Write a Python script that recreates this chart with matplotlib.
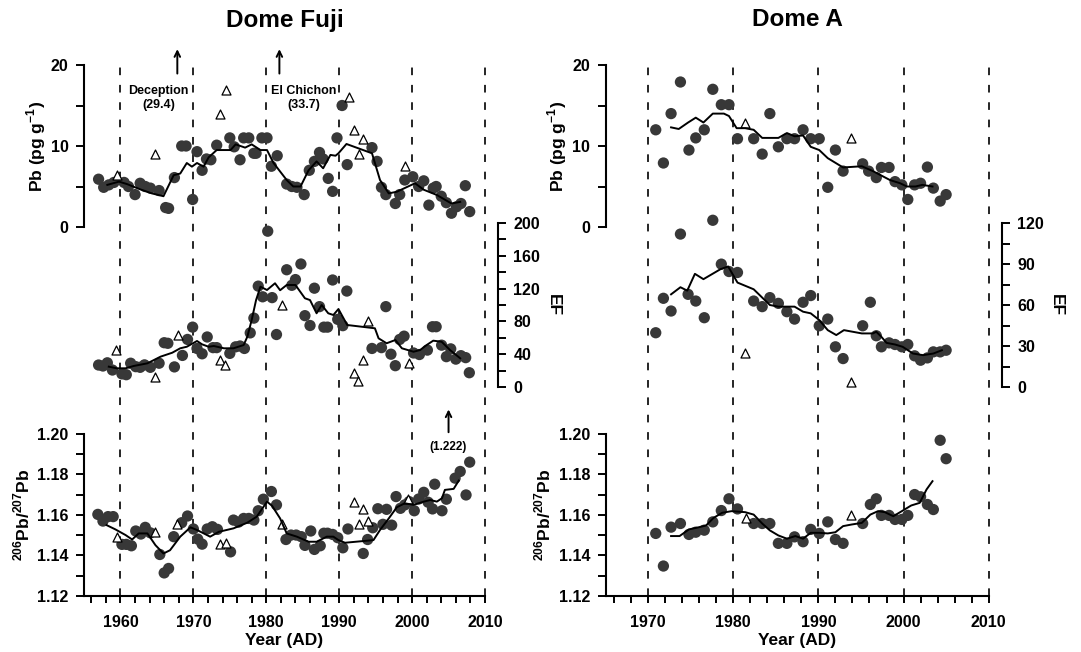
import matplotlib
matplotlib.use("Agg")
import matplotlib.pyplot as plt
from matplotlib.ticker import MultipleLocator, FormatStrFormatter

plt.rcParams['font.family'] = ['Liberation Sans', 'DejaVu Sans']
plt.rcParams['font.weight'] = 'bold'
plt.rcParams['mathtext.fontset'] = 'custom'
plt.rcParams['mathtext.rm'] = 'Liberation Sans:bold'
plt.rcParams['mathtext.bf'] = 'Liberation Sans:bold'
plt.rcParams['lines.scale_dashes'] = False

# ---------------- Dome Fuji data ----------------
df_pb_year = [1957.0, 1957.7, 1958.4, 1959.1, 1960.5, 1961.1, 1962.0, 1962.7, 1963.4, 1964.1,
              1965.3, 1966.2, 1966.6, 1967.4, 1968.4, 1969.0, 1969.9, 1970.5, 1971.2, 1971.8,
              1972.4, 1973.2, 1975.0, 1975.6, 1976.4, 1976.9, 1977.6, 1978.3, 1978.6, 1979.4,
              1980.1, 1980.7, 1981.5, 1982.8, 1983.5, 1984.2, 1985.2, 1985.9, 1986.6, 1987.3,
              1987.8, 1988.5, 1989.1, 1989.7, 1990.4, 1991.1, 1994.5, 1995.2, 1995.8, 1996.4,
              1997.7, 1998.3, 1999.0, 2000.1, 2000.9, 2001.6, 2002.3, 2002.9, 2003.3, 2004.0,
              2004.7, 2005.4, 2006.1, 2006.7, 2007.3, 2007.9]
df_pb = [5.9, 4.9, 5.2, 5.5, 5.5, 5.0, 4.0, 5.4, 5.0, 4.8,
         4.5, 2.4, 2.3, 6.1, 10.0, 10.0, 3.4, 9.3, 7.0, 8.4,
         8.3, 10.1, 11.0, 9.9, 8.3, 11.0, 11.0, 9.1, 9.1, 11.0,
         11.0, 7.5, 8.8, 5.3, 5.0, 4.9, 4.0, 7.0, 8.1, 9.2,
         8.4, 6.0, 4.4, 11.0, 15.0, 7.7, 9.8, 8.1, 4.9, 4.0,
         2.9, 4.0, 5.8, 6.2, 5.0, 5.7, 2.7, 4.8, 5.0, 3.8,
         3.0, 1.7, 2.5, 2.9, 5.1, 1.9]
df_pb_tri_year = [1959.5, 1964.8, 1973.7, 1974.5, 1991.4, 1992.0, 1992.7, 1993.2, 1999.0]
df_pb_tri = [6.4, 9.0, 14.0, 16.9, 16.0, 12.0, 9.0, 10.9, 7.5]
df_pb_avg_year = [1958.2, 1959.8, 1960.9, 1962.7, 1964.3, 1965.9, 1967.3, 1968.2, 1969.1, 1969.8,
                  1970.5, 1971.4, 1972.1, 1973.2, 1975.1, 1975.8, 1977.1, 1978.0, 1979.2, 1980.1,
                  1981.0, 1982.8, 1983.7, 1984.7, 1985.8, 1986.9, 1987.8, 1988.8, 1989.5, 1989.9,
                  1991.0, 1994.5, 1995.6, 1996.8, 1997.9, 2000.4, 2001.6, 2003.4, 2005.4, 2006.6]
df_pb_avg = [5.2, 5.6, 5.3, 4.65, 4.15, 3.8, 6.4, 6.6, 7.9, 7.45,
             7.9, 7.45, 8.6, 9.5, 9.5, 10.2, 9.8, 10.2, 9.5, 9.5,
             7.9, 5.8, 5.0, 5.0, 7.0, 8.1, 7.25, 8.9, 8.8, 9.1,
             10.25, 9.1, 5.8, 4.15, 4.35, 5.4, 4.6, 3.95, 2.9, 3.1]

df_ef_year = [1957.0, 1957.6, 1958.2, 1958.9, 1960.2, 1960.8, 1961.4, 1962.1, 1962.7, 1963.3,
              1964.1, 1965.3, 1966.0, 1966.5, 1967.4, 1968.5, 1969.2, 1969.9, 1970.5, 1971.2,
              1971.9, 1972.7, 1973.2, 1975.0, 1975.8, 1976.4, 1977.0, 1977.8, 1978.3, 1978.9,
              1979.5, 1980.2, 1980.8, 1981.4, 1982.8, 1983.5, 1984.0, 1984.75, 1985.3, 1986.0,
              1986.6, 1987.3, 1987.9, 1988.4, 1989.1, 1989.8, 1990.5, 1991.05, 1994.5, 1995.8,
              1996.4, 1997.1, 1997.7, 1998.3, 1998.9, 2000.2, 2001.0, 2002.1, 2002.8, 2003.3,
              2004.05, 2004.7, 2005.3, 2006.0, 2006.7, 2007.35, 2007.85]
df_ef = [26.8, 25.6, 29.5, 20.7, 16.0, 15.0, 29.0, 24.8, 24.0, 27.0,
         24.0, 29.0, 54.0, 53.3, 24.5, 38.5, 58.0, 73.0, 47.0, 40.5,
         61.0, 48.0, 48.0, 41.0, 49.0, 50.0, 47.0, 66.0, 84.0, 123.0,
         110.0, 190.0, 109.0, 64.0, 143.0, 124.0, 131.0, 150.0, 87.0, 75.0,
         120.5, 98.0, 73.0, 73.0, 130.5, 82.5, 74.8, 117.0, 47.0, 48.0,
         98.0, 40.0, 26.0, 58.0, 62.0, 41.5, 39.6, 45.0, 73.5, 73.5,
         51.0, 37.0, 46.5, 34.0, 38.2, 35.8, 17.4]
df_ef_tri_year = [1959.45, 1964.8, 1967.85, 1973.7, 1974.4, 1982.1, 1992.0, 1992.6, 1993.3, 1993.9, 1999.6]
df_ef_tri = [45.0, 12.6, 63.4, 33.0, 26.8, 100.5, 17.4, 7.3, 33.0, 80.9, 28.9]
df_ef_avg_year = [1958.4, 1959.5, 1960.7, 1961.8, 1963.7, 1965.5, 1967.1, 1968.2, 1969.1, 1970.5,
                  1971.2, 1972.1, 1972.8, 1974.2, 1975.5, 1976.9, 1977.4, 1978.0, 1978.6, 1979.2,
                  1980.1, 1981.2, 1981.9, 1982.8, 1984.0, 1985.3, 1986.0, 1986.9, 1987.6, 1988.5,
                  1989.2, 1989.9, 1991.1, 1994.9, 1995.4, 1996.5, 1997.7, 1998.6, 2000.2, 2001.1,
                  2002.0, 2002.9, 2004.05, 2005.2, 2006.6]
df_ef_avg = [24.8, 22.8, 22.8, 25.6, 28.9, 37.0, 41.8, 47.2, 49.1, 56.1,
             52.0, 49.1, 50.0, 47.2, 47.2, 51.2, 61.3, 81.7, 106.0, 122.3,
             118.3, 126.5, 118.0, 124.4, 124.4, 108.2, 106.0, 89.9, 100.0, 89.9,
             87.8, 95.1, 75.6, 71.6, 59.4, 53.3, 57.3, 47.2, 43.0, 45.1,
             51.2, 56.5, 55.2, 45.1, 35.0]

df_r_year = [1956.9, 1957.6, 1958.3, 1959.0, 1960.2, 1960.8, 1961.5, 1962.1, 1962.8, 1963.4,
             1964.1, 1965.4, 1966.0, 1966.6, 1967.3, 1968.4, 1969.2, 1970.0, 1970.6, 1971.2,
             1971.9, 1972.6, 1973.3, 1975.1, 1975.5, 1976.2, 1976.9, 1977.6, 1978.3, 1978.9,
             1979.6, 1980.7, 1981.4, 1982.7, 1983.4, 1984.1, 1984.8, 1985.3, 1986.1, 1986.6,
             1987.4, 1987.9, 1988.4, 1989.1, 1989.8, 1990.5, 1991.2, 1993.3, 1993.9, 1994.6,
             1995.3, 1996.0, 1996.5, 1997.2, 1997.8, 1998.4, 1999.0, 1999.6, 2000.3, 2000.9,
             2001.6, 2002.2, 2002.8, 2003.1, 2004.1, 2004.7, 2005.9, 2006.6, 2007.4, 2007.9]
df_r = [1.1603, 1.1570, 1.1592, 1.1592, 1.1455, 1.1455, 1.1448, 1.1521, 1.1506, 1.1539,
        1.1512, 1.1405, 1.1314, 1.1336, 1.1493, 1.1562, 1.1595, 1.1531, 1.1481, 1.1456,
        1.1531, 1.1542, 1.1529, 1.1418, 1.1575, 1.1565, 1.1583, 1.1583, 1.1575, 1.1621,
        1.1678, 1.1716, 1.1650, 1.1479, 1.1501, 1.1501, 1.1493, 1.1450, 1.1521, 1.1430,
        1.1448, 1.1510, 1.1510, 1.1504, 1.1488, 1.1438, 1.1531, 1.1410, 1.1479, 1.1537,
        1.1631, 1.1554, 1.1628, 1.1550, 1.1691, 1.1633, 1.1650, 1.1666, 1.1621, 1.1679,
        1.1712, 1.1663, 1.1630, 1.1752, 1.1621, 1.1678, 1.1782, 1.1815, 1.1699, 1.1861]
df_r_tri_year = [1959.5, 1964.8, 1967.8, 1973.6, 1974.5, 1982.1, 1992.0, 1992.7, 1993.3, 1993.9, 1999.5]
df_r_tri = [1.1491, 1.1517, 1.1554, 1.1455, 1.1464, 1.1554, 1.1666, 1.1554, 1.1630, 1.1570, 1.1678]
df_r_avg_year = [1958.1, 1959.3, 1960.7, 1961.6, 1962.5, 1963.7, 1964.8, 1965.9, 1966.8, 1968.2,
                 1969.6, 1970.5, 1972.3, 1973.5, 1975.5, 1977.4, 1978.7, 1980.1, 1980.8, 1981.9,
                 1982.8, 1984.2, 1985.8, 1986.9, 1988.3, 1989.2, 1989.9, 1990.8, 1994.7, 1995.6,
                 1996.8, 1997.9, 1999.0, 2000.2, 2001.6, 2002.5, 2003.4, 2004.1, 2004.5, 2005.7,
                 2006.4]
df_r_avg = [1.1550, 1.1529, 1.1501, 1.1479, 1.1509, 1.1509, 1.1451, 1.1410, 1.1426, 1.1493,
            1.1539, 1.1526, 1.1493, 1.1517, 1.1534, 1.1562, 1.1592, 1.1666, 1.1645, 1.1583,
            1.1509, 1.1493, 1.1468, 1.1468, 1.1493, 1.1493, 1.1476, 1.1463, 1.1476, 1.1526,
            1.1583, 1.1638, 1.1658, 1.1650, 1.1666, 1.1674, 1.1666, 1.1683, 1.1724, 1.1729,
            1.1770]

# ---------------- Dome A data ----------------
da_pb_year = [1970.9, 1971.8, 1972.7, 1973.8, 1974.8, 1975.6, 1976.6, 1977.6, 1978.6, 1979.5,
              1980.5, 1982.4, 1983.4, 1984.3, 1985.3, 1986.3, 1987.2, 1988.2, 1989.1, 1990.1,
              1991.1, 1992.0, 1992.9, 1995.2, 1995.9, 1996.8, 1997.4, 1998.3, 1999.0, 1999.8,
              2000.5, 2001.3, 2002.0, 2002.8, 2003.5, 2004.3, 2005.0]
da_pb = [12.0, 7.9, 14.0, 17.9, 9.5, 11.0, 12.0, 17.0, 15.1, 15.1,
         10.9, 10.9, 9.0, 14.0, 9.9, 10.9, 10.9, 12.0, 10.9, 10.9,
         4.9, 9.5, 6.9, 7.8, 6.9, 6.1, 7.35, 7.35, 5.6, 5.2,
         3.4, 5.2, 5.4, 7.4, 4.8, 3.2, 4.0]
da_pb_tri_year = [1981.4, 1993.8]
da_pb_tri = [12.9, 11.0]
da_pb_avg_year = [1972.7, 1973.6, 1974.7, 1975.6, 1976.5, 1977.6, 1978.9, 1979.5, 1980.4, 1981.4,
                  1982.4, 1983.4, 1985.3, 1986.3, 1987.2, 1988.2, 1989.1, 1990.1, 1991.1, 1992.9,
                  1995.1, 1996.4, 1998.4, 1999.6, 2000.4, 2001.4, 2002.2, 2003.4]
da_pb_avg = [12.3, 12.1, 12.9, 13.5, 12.9, 14.0, 14.0, 13.7, 12.2, 12.2,
             12.0, 11.0, 11.0, 11.6, 11.2, 11.3, 9.9, 9.5, 8.5, 7.35,
             7.5, 6.9, 5.8, 5.4, 5.0, 5.0, 5.2, 5.0]

da_ef_year = [1970.9, 1971.8, 1972.7, 1973.8, 1974.7, 1975.6, 1976.6, 1977.6, 1978.6, 1979.5,
              1980.5, 1982.4, 1983.4, 1984.3, 1985.3, 1986.3, 1987.2, 1988.2, 1989.1, 1990.1,
              1991.1, 1992.0, 1992.9, 1995.2, 1996.1, 1996.8, 1997.4, 1998.3, 1999.0, 1999.8,
              2000.5, 2001.3, 2002.0, 2002.8, 2003.5, 2004.3, 2005.0]
da_ef = [39.7, 64.9, 55.6, 111.9, 67.8, 62.9, 50.7, 122.0, 89.9, 84.5,
         83.8, 62.9, 58.8, 65.4, 61.2, 55.1, 49.7, 62.0, 66.9, 44.8,
         49.7, 29.4, 20.8, 44.8, 62.0, 37.5, 29.4, 32.3, 31.1, 29.4,
         31.1, 22.8, 19.6, 21.3, 25.7, 25.7, 26.9]
da_ef_tri_year = [1981.4, 1993.8]
da_ef_tri = [25.2, 3.7]
da_ef_avg_year = [1972.7, 1973.8, 1974.6, 1975.5, 1976.5, 1978.5, 1979.4, 1980.5, 1982.4, 1984.3,
                  1985.3, 1987.2, 1988.2, 1989.1, 1990.1, 1991.1, 1992.1, 1993.0, 1995.1, 1996.4,
                  1996.8, 1997.4, 1998.0, 1999.0, 1999.9, 2001.1, 2002.3, 2003.5, 2004.5]
da_ef_avg = [67.8, 73.0, 70.5, 82.8, 78.9, 86.2, 88.2, 76.4, 71.5, 60.0,
             58.8, 58.8, 55.1, 53.9, 49.0, 41.6, 38.0, 41.6, 39.2, 39.2,
             40.4, 36.7, 32.3, 31.1, 29.4, 24.5, 23.3, 24.5, 26.9]

da_r_year = [1970.9, 1971.8, 1972.7, 1973.8, 1974.8, 1975.6, 1976.6, 1977.6, 1978.6, 1979.5,
             1980.5, 1982.4, 1983.4, 1984.3, 1985.3, 1986.3, 1987.2, 1988.2, 1989.1, 1990.1,
             1991.1, 1992.0, 1992.9, 1995.2, 1996.1, 1996.8, 1997.4, 1998.3, 1999.0, 1999.8,
             2000.5, 2001.3, 2002.0, 2002.8, 2003.5, 2004.3, 2005.0]
da_r = [1.1509, 1.1348, 1.1540, 1.1558, 1.1504, 1.1515, 1.1525, 1.1566, 1.1622, 1.1680,
        1.1630, 1.1558, 1.1558, 1.1558, 1.1460, 1.1460, 1.1492, 1.1468, 1.1529, 1.1509,
        1.1566, 1.1479, 1.1460, 1.1558, 1.1652, 1.1680, 1.1598, 1.1598, 1.1578, 1.1578,
        1.1598, 1.1701, 1.1690, 1.1652, 1.1627, 1.1969, 1.1878]
da_r_tri_year = [1981.5, 1993.8]
da_r_tri = [1.1586, 1.1598]
da_r_avg_year = [1972.7, 1973.7, 1974.8, 1975.7, 1976.8, 1977.7, 1978.7, 1979.8, 1981.4, 1982.4,
                 1983.4, 1984.3, 1985.3, 1986.3, 1987.3, 1988.2, 1989.1, 1990.1, 1991.1, 1992.0,
                 1992.9, 1993.9, 1995.1, 1996.1, 1997.0, 1997.8, 1998.8, 1999.8, 2000.9, 2001.9,
                 2002.7, 2003.4]
da_r_avg = [1.1496, 1.1496, 1.1529, 1.1537, 1.1548, 1.1586, 1.1611, 1.1619, 1.1614, 1.1602,
            1.1558, 1.1524, 1.1499, 1.1483, 1.1496, 1.1483, 1.1512, 1.1512, 1.1509, 1.1515,
            1.1545, 1.1553, 1.1561, 1.1602, 1.1619, 1.1614, 1.1594, 1.1619, 1.1647, 1.1660,
            1.1726, 1.1767]

decades = [1960, 1970, 1980, 1990, 2000, 2010]

# ---------------- layout (pixel helpers) ----------------
W, H = 1081, 652
fig = plt.figure(figsize=(W / 100, H / 100), dpi=100)


def box(x0, x1, ybot, ytop):
    return [x0 / W, 1 - ybot / H, (x1 - x0) / W, (ybot - ytop) / H]


def ftext(x, y, s, **kw):
    fig.text(x / W, 1 - y / H, s, ha='center', va='center', **kw)


DOT = '#383838'
FS = 11.5
S_DOT = 66
S_TRI = 42


def style_ticks(ax, side):
    ax.tick_params(axis='y', which='both', direction='out', width=1.4, labelsize=FS, pad=5,
                   left=(side == 'left'), right=(side == 'right'),
                   labelleft=(side == 'left'), labelright=(side == 'right'))
    ax.tick_params(axis='y', which='major', length=6)
    ax.tick_params(axis='y', which='minor', length=6)


def draw(ax, data):
    yrs, vals, tyrs, tvals, ayrs, avals = data
    ax.scatter(yrs, vals, s=S_DOT, color=DOT, edgecolors='none', clip_on=False, zorder=3)
    ax.scatter(tyrs, tvals, s=S_TRI, marker='^', facecolors='white', edgecolors='black',
               linewidths=0.9, clip_on=False, zorder=4)
    ax.plot(ayrs, avals, color='black', lw=1.4, zorder=5)


def column(x0, x1, xlim, pb, ef, ratio, ef_ticks, ef_minor, title, ef_max):
    # dashed decade lines
    bg = fig.add_axes(box(x0, x1, 596, 63))
    bg.set_xlim(*xlim)
    bg.set_ylim(0, 1)
    bg.axis('off')
    for d in decades:
        if xlim[0] <= d <= xlim[1]:
            bg.plot([d, d], [0, 1], color='black', lw=1.2, dashes=(5.5, 7.0), clip_on=False)

    # ratio panel (bottom)
    ar = fig.add_axes(box(x0, x1, 596, 434))
    ar.patch.set_alpha(0)
    ar.set_xlim(*xlim)
    ar.set_ylim(1.12, 1.20)
    for s in ['top', 'right']:
        ar.spines[s].set_visible(False)
    for s in ['left', 'bottom']:
        ar.spines[s].set_linewidth(1.5)
    ar.yaxis.set_major_locator(MultipleLocator(0.02))
    ar.yaxis.set_minor_locator(MultipleLocator(0.01))
    ar.yaxis.set_major_formatter(FormatStrFormatter('%.2f'))
    ar.xaxis.set_major_locator(MultipleLocator(10))
    ar.xaxis.set_minor_locator(MultipleLocator(2))
    style_ticks(ar, 'left')
    ar.tick_params(axis='x', which='both', direction='out', length=5, width=1.4,
                   labelsize=FS, pad=9)
    draw(ar, ratio)

    # Pb panel (top)
    ap = fig.add_axes(box(x0, x1, 227, 65))
    ap.patch.set_alpha(0)
    ap.set_xlim(*xlim)
    ap.set_ylim(0, 20)
    for s in ['top', 'right', 'bottom']:
        ap.spines[s].set_visible(False)
    ap.spines['left'].set_linewidth(1.5)
    ap.set_xticks([])
    ap.yaxis.set_major_locator(MultipleLocator(10))
    ap.yaxis.set_minor_locator(MultipleLocator(5))
    style_ticks(ap, 'left')
    draw(ap, pb)

    # EF panel (middle, right axis)
    ae = fig.add_axes(box(x0, x1, 387, 223))
    ae.patch.set_alpha(0)
    ae.set_xlim(*xlim)
    ae.set_ylim(0, ef_max)
    for s in ['top', 'left', 'bottom']:
        ae.spines[s].set_visible(False)
    ae.spines['right'].set_linewidth(1.5)
    ae.spines['right'].set_position(('outward', 9.5))
    ae.set_xticks([])
    ae.set_yticks(ef_ticks)
    ae.yaxis.set_minor_locator(MultipleLocator(ef_minor))
    style_ticks(ae, 'right')
    draw(ae, ef)

    xc = (x0 + x1) / 2
    ftext(xc, 20, title, fontsize=17.5, fontweight='bold')
    ftext(xc, 641, 'Year (AD)', fontsize=12.5, fontweight='bold')
    ftext(x0 - 48, 146, 'Pb (pg g$^{-1}$)', fontsize=12.5, fontweight='bold', rotation=90)
    ftext(x0 - 62, 515, '$^{206}$Pb/$^{207}$Pb', fontsize=12.5, fontweight='bold', rotation=90)
    ftext(x1 + 68, 305, 'EF', fontsize=12.5, fontweight='bold', rotation=270)
    return ap, ae, ar


ap_l, ae_l, ar_l = column(84, 485, (1955, 2010),
                          (df_pb_year, df_pb, df_pb_tri_year, df_pb_tri, df_pb_avg_year, df_pb_avg),
                          (df_ef_year, df_ef, df_ef_tri_year, df_ef_tri, df_ef_avg_year, df_ef_avg),
                          (df_r_year, df_r, df_r_tri_year, df_r_tri, df_r_avg_year, df_r_avg),
                          [0, 40, 80, 120, 160, 200], 20, 'Dome Fuji', 200)
ap_r, ae_r, ar_r = column(605.5, 988.7, (1965, 2010),
                          (da_pb_year, da_pb, da_pb_tri_year, da_pb_tri, da_pb_avg_year, da_pb_avg),
                          (da_ef_year, da_ef, da_ef_tri_year, da_ef_tri, da_ef_avg_year, da_ef_avg),
                          (da_r_year, da_r, da_r_tri_year, da_r_tri, da_r_avg_year, da_r_avg),
                          [0, 30, 60, 90, 120], 15, 'Dome A', 120)

# volcanic / off-scale annotations (Dome Fuji)
for yr in [1967.8, 1981.8]:
    ap_l.annotate('', xy=(yr, 22.3), xytext=(yr, 18.6), xycoords='data',
                  arrowprops=dict(arrowstyle='->', color='black', lw=1.4), annotation_clip=False)
ap_l.text(1965.2, 15.9, 'Deception\n(29.4)', ha='center', va='center', fontsize=9,
          fontweight='bold', linespacing=1.2)
ap_l.text(1985.2, 15.9, 'El Chichon\n(33.7)', ha='center', va='center', fontsize=9,
          fontweight='bold', linespacing=1.2)
ar_l.annotate('', xy=(2005.0, 1.2135), xytext=(2005.0, 1.1995),
              arrowprops=dict(arrowstyle='->', color='black', lw=1.4), annotation_clip=False)
ar_l.text(2005.0, 1.1938, '(1.222)', ha='center', va='center', fontsize=8.5, fontweight='bold')

fig.savefig('out.png', dpi=100)
